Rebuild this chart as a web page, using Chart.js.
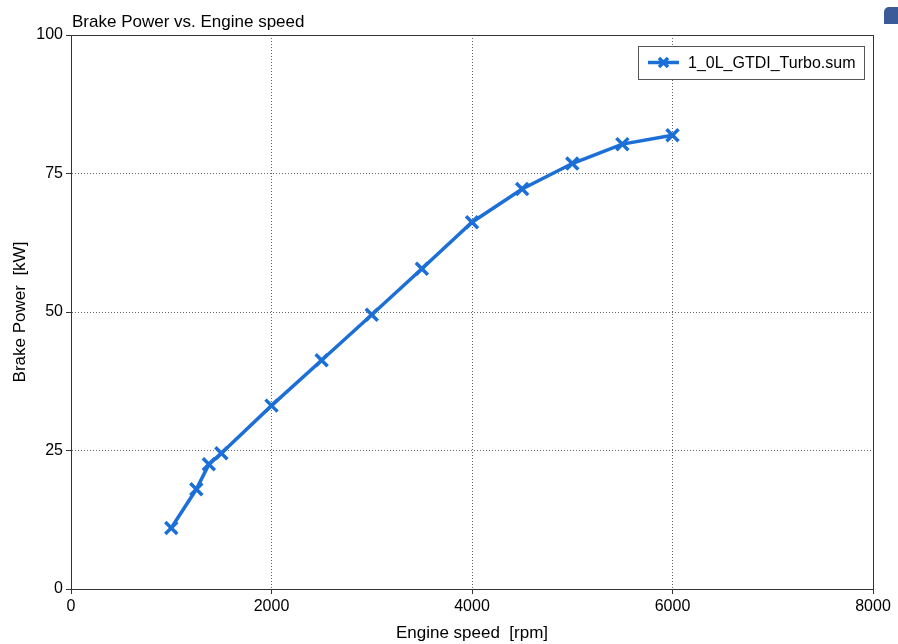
<!DOCTYPE html>
<html>
<head>
<meta charset="utf-8">
<script src="https://cdn.jsdelivr.net/npm/chart.js@4"></script>
<style>
html,body{margin:0;padding:0;background:#fff;}
#wrap{position:relative;width:898px;height:644px;}
#corner{position:absolute;left:884px;top:7px;width:14px;height:17px;background:#3b5a98;border-top-left-radius:5px;}
</style>
</head>
<body>
<div id="wrap"><canvas id="c" width="898" height="644"></canvas><div id="corner"></div></div>
<script>
const chartTitle = 'Brake Power vs. Engine speed';
const xTitle = 'Engine speed  [rpm]';
const yTitle = 'Brake Power  [kW]';
const seriesName = '1_0L_GTDI_Turbo.sum';
const engineSpeed = [1000, 1250, 1375, 1500, 2000, 2500, 3000, 3500, 4000, 4500, 5000, 5500, 6000];
const brakePower = [11.0, 18.0, 22.5, 24.5, 33.1, 41.3, 49.5, 57.8, 66.2, 72.2, 76.8, 80.3, 81.9];
const xTicks = [0, 2000, 4000, 6000, 8000];
const yTicks = [0, 25, 50, 75, 100];

const lineColor = '#1b6fd6';
const FONT = '"Liberation Sans", Arial, sans-serif';

const overlay = {
  id: 'overlay',
  afterDraw(chart) {
    const ctx = chart.ctx;
    const a = chart.chartArea;
    ctx.save();
    // frame
    ctx.strokeStyle = '#333';
    ctx.lineWidth = 1;
    ctx.setLineDash([]);
    ctx.strokeRect(Math.round(a.left) + 0.5, Math.round(a.top) + 0.5, Math.round(a.right - a.left), Math.round(a.bottom - a.top));
    // title
    ctx.fillStyle = '#000';
    ctx.font = '17px ' + FONT;
    ctx.textAlign = 'left';
    ctx.textBaseline = 'alphabetic';
    ctx.fillText(chartTitle, a.left + 1, 27);
    // axis titles
    ctx.textAlign = 'center';
    ctx.textBaseline = 'middle';
    ctx.fillText(xTitle, (a.left + a.right) / 2, 633);
    ctx.save();
    ctx.translate(20, (a.top + a.bottom) / 2);
    ctx.rotate(-Math.PI / 2);
    ctx.fillText(yTitle, 0, 0);
    ctx.restore();
    // legend
    const lx = 638, ly = 46, lw = 226, lh = 33;
    ctx.fillStyle = '#fff';
    ctx.fillRect(lx, ly, lw, lh);
    ctx.strokeStyle = '#555';
    ctx.strokeRect(lx + 0.5, ly + 0.5, lw, lh);
    const my = ly + lh / 2;
    ctx.strokeStyle = lineColor;
    ctx.lineWidth = 3.5;
    ctx.beginPath();
    ctx.moveTo(648, my);
    ctx.lineTo(679, my);
    ctx.stroke();
    const r = 4.5;
    ctx.beginPath();
    ctx.moveTo(663.5 - r, my - r); ctx.lineTo(663.5 + r, my + r);
    ctx.moveTo(663.5 - r, my + r); ctx.lineTo(663.5 + r, my - r);
    ctx.stroke();
    ctx.fillStyle = '#000';
    ctx.textAlign = 'left';
    ctx.font = '16px ' + FONT;
    ctx.fillText(seriesName, 688, my + 1);
    ctx.restore();
  }
};

const tickFmt = v => String(v);

new Chart(document.getElementById('c'), {
  type: 'line',
  data: {
    datasets: [{
      label: seriesName,
      data: engineSpeed.map((x, i) => ({x: x, y: brakePower[i]})),
      borderColor: lineColor,
      backgroundColor: lineColor,
      borderWidth: 3.5,
      pointStyle: 'crossRot',
      pointRadius: 8.5,
      pointBorderWidth: 3.5,
      pointHoverRadius: 8.5,
      tension: 0,
      fill: false
    }]
  },
  options: {
    responsive: false,
    animation: false,
    events: [],
    layout: {padding: {top: 35, right: 25, left: 0, bottom: 0}},
    plugins: {legend: {display: false}, title: {display: false}, tooltip: {enabled: false}},
    scales: {
      x: {
        type: 'linear', min: 0, max: 8000,
        afterBuildTicks(s) { s.ticks = xTicks.map(v => ({value: v})); },
        afterFit(s) { s.height = 55; },
        grid: {color: '#666', lineWidth: 1, tickLength: 5, tickColor: '#333', tickBorderDash: [], drawTicks: true},
        border: {display: true, color: '#333', dash: [1, 2]},
        ticks: {color: '#000', font: {family: FONT, size: 16}, padding: 3, maxRotation: 0, callback: tickFmt}
      },
      y: {
        type: 'linear', min: 0, max: 100,
        afterBuildTicks(s) { s.ticks = yTicks.map(v => ({value: v})); },
        afterFit(s) { s.width = 71; },
        grid: {color: '#666', lineWidth: 1, tickLength: 5, tickColor: '#333', tickBorderDash: [], drawTicks: true},
        border: {display: true, color: '#333', dash: [1, 2]},
        ticks: {color: '#000', font: {family: FONT, size: 16}, padding: 3, callback: tickFmt}
      }
    }
  },
  plugins: [overlay]
});
</script>
</body>
</html>
